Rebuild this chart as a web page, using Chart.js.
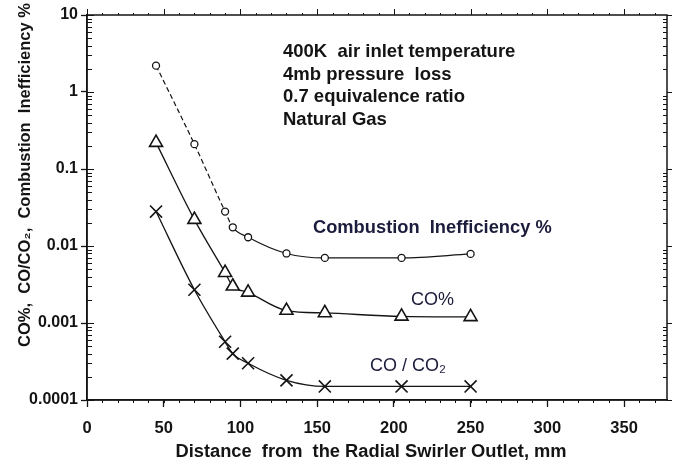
<!DOCTYPE html>
<html>
<head>
<meta charset="utf-8">
<script src="https://cdn.jsdelivr.net/npm/chart.js@4.4.1/dist/chart.umd.min.js"></script>
<style>
  html, body { margin: 0; background: #fff; }
  #wrap { width: 681px; height: 466px; }
</style>
</head>
<body>
<div id="wrap"><canvas id="chart"></canvas></div>
<script>
// values
const distance = [45, 70, 90, 95, 105, 130, 155, 205, 250];
const inefficiency = [2.2, 0.21, 0.028, 0.0175, 0.013, 0.008, 0.007, 0.007, 0.0079];
const coPercent = [0.22, 0.022, 0.0045, 0.0030, 0.0025, 0.00145, 0.00135, 0.00122, 0.0012];
const coRatio = [0.028, 0.0027, 0.00057, 0.0004, 0.0003, 0.00018, 0.00015, 0.00015, 0.00015];

const xTicks = [0, 50, 100, 150, 200, 250, 300, 350];
const yTicks = [0.0001, 0.001, 0.01, 0.1, 1, 10];
const yTickLabels = ['0.0001', '0.001', '0.01', '0.1', '1', '10'];

const notes = ['400K  air inlet temperature', '4mb pressure  loss', '0.7 equivalence ratio', 'Natural Gas'];

const ink = '#141414';
const family = '"Liberation Sans", Arial, sans-serif';

function points(ys) {
  return distance.map((d, i) => ({ x: d, y: ys[i] }));
}

// minor ticks, inside ticks and the closed frame
const frameTicks = {
  id: 'frameTicks',
  afterDraw(chart) {
    const { ctx, chartArea: a, scales: { x, y } } = chart;
    ctx.save();
    ctx.strokeStyle = ink;
    ctx.lineWidth = 1.5;
    ctx.strokeRect(a.left, a.top, a.right - a.left, a.bottom - a.top);

    ctx.lineWidth = 1;
    ctx.beginPath();
    for (let n = -4; n < 1; n++) {
      for (let k = 2; k <= 9; k++) {
        const py = Math.round(y.getPixelForValue(k * Math.pow(10, n))) + 0.5;
        ctx.moveTo(a.left, py); ctx.lineTo(a.left + 5, py);
        ctx.moveTo(a.right - 4, py); ctx.lineTo(a.right, py);
      }
    }
    yTicks.forEach(v => {
      const py = Math.round(y.getPixelForValue(v)) + 0.5;
      ctx.moveTo(a.left, py); ctx.lineTo(a.left + 7, py);
      ctx.moveTo(a.right, py); ctx.lineTo(a.right + 5, py);
    });
    for (let v = 10; v < x.max; v += 10) {
      const px = Math.round(x.getPixelForValue(v)) + 0.5;
      ctx.moveTo(px, a.bottom); ctx.lineTo(px, a.bottom + 3);
      ctx.moveTo(px, a.top); ctx.lineTo(px, a.top - 2);
    }
    xTicks.forEach(v => {
      const px = Math.round(x.getPixelForValue(v)) + 0.5;
      ctx.moveTo(px, a.top); ctx.lineTo(px, a.top - 6);
    });
    ctx.stroke();
    ctx.restore();
  }
};

// axis titles and text in the plot
const chartTexts = {
  id: 'chartTexts',
  afterDraw(chart) {
    const { ctx } = chart;
    ctx.save();
    ctx.fillStyle = ink;
    ctx.textBaseline = 'middle';

    ctx.font = 'bold 18.5px ' + family;
    ctx.textAlign = 'left';
    notes.forEach((t, i) => ctx.fillText(t, 283, 52 + i * 22.7));

    ctx.fillStyle = '#1c1c3c';
    ctx.font = 'bold 18.3px ' + family;
    ctx.fillText('Combustion  Inefficiency %', 313, 228);
    ctx.font = '18px ' + family;
    ctx.fillText('CO%', 411, 300);
    ctx.fillText('CO / CO\u2082', 370, 366);

    ctx.fillStyle = ink;
    ctx.font = 'bold 18.3px ' + family;
    ctx.textAlign = 'center';
    ctx.fillText('Distance  from  the Radial Swirler Outlet, mm', 371, 452);

    ctx.translate(25, 175);
    ctx.rotate(-Math.PI / 2);
    ctx.font = 'bold 16.5px ' + family;
    ctx.fillText('CO%,  CO/CO\u2082,  Combustion  Inefficiency %', 0, 0);
    ctx.restore();
  }
};

new Chart(document.getElementById('chart'), {
  type: 'line',
  data: {
    datasets: [
      {
        label: 'Combustion Inefficiency %',
        data: points(inefficiency),
        borderColor: ink,
        borderWidth: 1.2,
        pointStyle: 'circle',
        pointRadius: 3.5,
        pointBorderWidth: 1.3,
        pointBackgroundColor: '#fff',
        pointBorderColor: ink,
        segment: {
          borderDash: c => c.p0.parsed.x < 95 ? [5, 3] : undefined
        }
      },
      {
        label: 'CO%',
        data: points(coPercent),
        borderColor: ink,
        borderWidth: 1.3,
        pointStyle: 'triangle',
        pointRadius: 7.5,
        pointBorderWidth: 1.6,
        pointBackgroundColor: '#fff',
        pointBorderColor: ink
      },
      {
        label: 'CO / CO2',
        data: points(coRatio),
        borderColor: ink,
        borderWidth: 1.3,
        pointStyle: 'crossRot',
        pointRadius: 8.5,
        pointBorderWidth: 1.6,
        pointBorderColor: ink
      }
    ]
  },
  options: {
    responsive: true,
    maintainAspectRatio: false,
    animation: false,
    cubicInterpolationMode: 'monotone',
    layout: { padding: { top: 15, right: 14, left: 0, bottom: 0 } },
    plugins: {
      legend: { display: false },
      tooltip: { enabled: false }
    },
    scales: {
      x: {
        type: 'linear',
        min: 0,
        max: 378,
        afterBuildTicks: s => { s.ticks = xTicks.map(v => ({ value: v })); },
        afterFit: s => { s.height = 66; },
        grid: { drawOnChartArea: false, drawTicks: true, tickLength: 7, tickColor: ink, tickWidth: 1.3 },
        border: { color: ink, width: 1.5 },
        ticks: {
          color: ink,
          padding: 12,
          maxRotation: 0,
          font: { family: family, size: 16.5, weight: 'bold' }
        }
      },
      y: {
        type: 'logarithmic',
        min: 0.0001,
        max: 10,
        afterBuildTicks: s => { s.ticks = yTicks.map(v => ({ value: v, major: true })); },
        afterFit: s => { s.width = 87; },
        grid: { drawOnChartArea: false, drawTicks: true, tickLength: 6, tickColor: ink, tickWidth: 1.3 },
        border: { color: ink, width: 1.5 },
        ticks: {
          color: ink,
          padding: 3,
          autoSkip: false,
          callback: (v, i) => yTickLabels[i],
          font: { family: family, size: 16, weight: 'bold' }
        }
      }
    }
  },
  plugins: [frameTicks, chartTexts]
});
</script>
</body>
</html>
